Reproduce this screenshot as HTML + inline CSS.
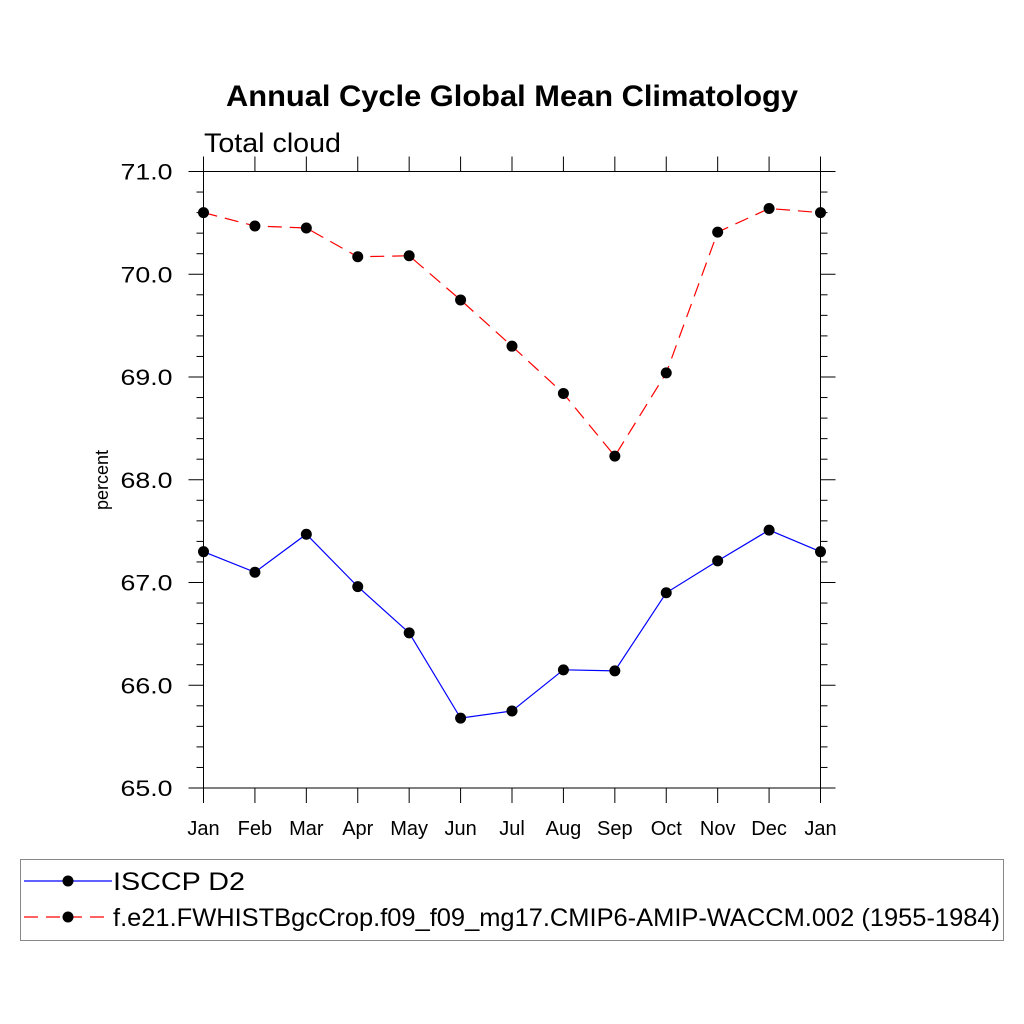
<!DOCTYPE html>
<html><head><meta charset="utf-8"><style>
body{margin:0;background:#fff}
svg{display:block;font-family:"Liberation Sans",sans-serif}
</style></head><body>
<svg id="c" width="1024" height="1024" viewBox="0 0 1024 1024">
<text x="226" y="106" textLength="572" lengthAdjust="spacingAndGlyphs" font-size="30" font-weight="bold">Annual Cycle Global Mean Climatology</text>
<text x="204" y="152" textLength="137" lengthAdjust="spacingAndGlyphs" font-size="27">Total cloud</text>
<text transform="translate(108,480) rotate(-90)" text-anchor="middle" font-size="18">percent</text>
<g id="axes"></g><g id="series"></g>
<rect x="20.5" y="859.5" width="983" height="81" fill="none" stroke="#888"/>
<g>
<line x1="24" y1="881" x2="112" y2="881" stroke="#00f" stroke-width="1.2"/>
<circle cx="68" cy="881" r="5.5"/>
<text x="113" y="890" font-size="25" textLength="132" lengthAdjust="spacingAndGlyphs">ISCCP D2</text></g>
<g>
<line x1="24" y1="917" x2="112" y2="917" stroke="#f00" stroke-width="1.2" stroke-dasharray="14,8"/>
<circle cx="68" cy="917" r="5.5"/>
<text x="113" y="926" font-size="25" textLength="887" lengthAdjust="spacingAndGlyphs">f.e21.FWHISTBgcCrop.f09_f09_mg17.CMIP6-AMIP-WACCM.002 (1955-1984)</text></g>
</svg>
<script>
const months=["Jan","Feb","Mar","Apr","May","Jun","Jul","Aug","Sep","Oct","Nov","Dec","Jan"];
const isccp=[67.3,67.1,67.47,66.96,66.51,65.68,65.75,66.15,66.14,66.9,67.21,67.51,67.3];
const model=[70.6,70.47,70.45,70.17,70.18,69.75,69.3,68.84,68.23,69.04,70.41,70.64,70.6];
const yTicks=[65,66,67,68,69,70,71];
const yMin=65,yMax=71;
const X0=203.5,X1=820.5,Y0=788,Y1=171.5;
const NS="http://www.w3.org/2000/svg";
function xs(i){return X0+(X1-X0)*i/(months.length-1);}
function ys(v){return Y0-(Y0-Y1)*(v-yMin)/(yMax-yMin);}
function mk(t,a,p){const e=document.createElementNS(NS,t);for(const k in a)e.setAttribute(k,a[k]);p.appendChild(e);return e;}
const ax=document.getElementById('axes');
const fr=mk('rect',{x:X0,y:Y1,width:X1-X0,height:Y0-Y1,fill:'none',stroke:'#000','stroke-width':1},ax);


months.forEach((m,i)=>{
  const x=xs(i);
  mk('line',{x1:x,y1:Y0,x2:x,y2:Y0+15,stroke:'#000'},ax);
  mk('line',{x1:x,y1:Y1,x2:x,y2:Y1-15,stroke:'#000'},ax);
  const t=mk('text',{x:x,y:Y0+47,'text-anchor':'middle','font-size':20},ax);
  t.textContent=m;
  
  
});
for(let v=yMin;v<=yMax+1e-6;v+=0.2){
  const y=ys(v);const maj=Math.abs(v-Math.round(v))<1e-6;const L=maj?15:7;
  mk('line',{x1:X0-L,y1:y,x2:X0,y2:y,stroke:'#000'},ax);
  mk('line',{x1:X1,y1:y,x2:X1+L,y2:y,stroke:'#000'},ax);
}
yTicks.forEach(v=>{
  const t=mk('text',{x:X0-83,y:ys(v)+8,'font-size':22,textLength:52,lengthAdjust:'spacingAndGlyphs'},ax);
  t.textContent=v.toFixed(1);
  
  
});
const sg=document.getElementById('series');
function draw(vals,color,dash,name){
  const g=mk('g',{},sg);
  
  
  const p=mk('polyline',{points:vals.map((v,i)=>xs(i)+','+ys(v)).join(' '),fill:'none',stroke:color,'stroke-width':1.2},g);
  if(dash)p.setAttribute('stroke-dasharray',dash);
  vals.forEach((v,i)=>{
    const c=mk('circle',{cx:xs(i),cy:ys(v),r:5.5,fill:'#000'},g);
    
    
  });
}
draw(model,'#f00','14,8','series-model');
draw(isccp,'#00f',null,'series-isccp');
</script>
</body></html>
